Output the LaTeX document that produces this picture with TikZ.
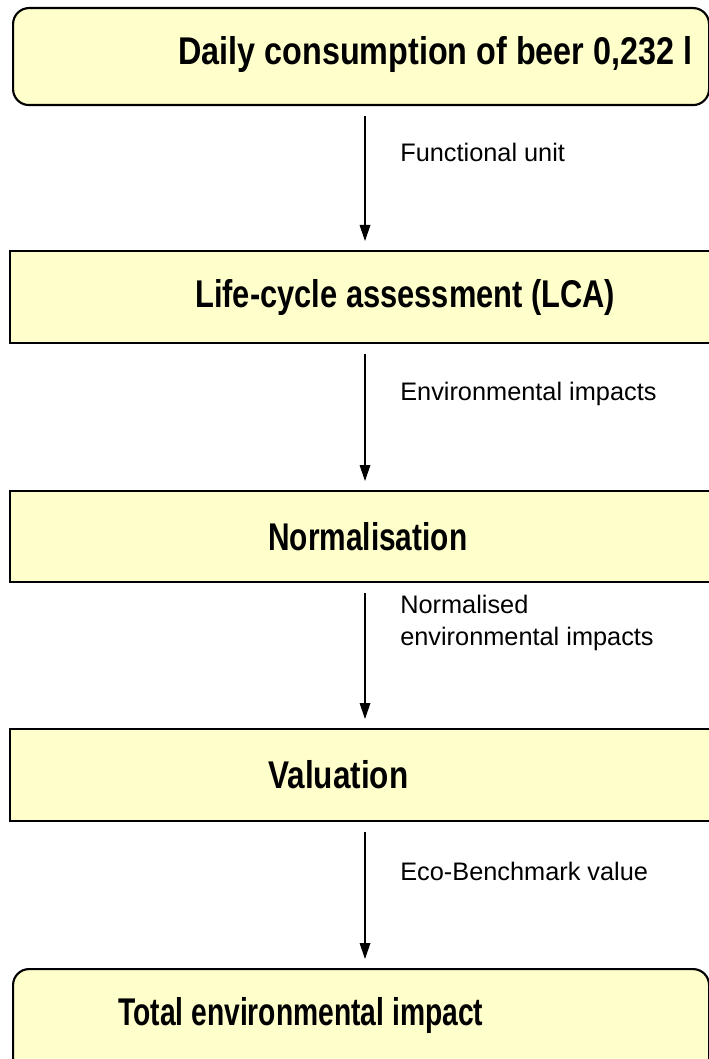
\documentclass[tikz,border=0pt]{standalone}
\usepackage{fontspec}
\usepackage{graphicx}
\setmainfont{Liberation Sans}
\newfontfamily\boxfont[FakeStretch=0.85]{Liberation Sans Bold}
\usetikzlibrary{arrows.meta}
\definecolor{boxfill}{HTML}{FFFFCC}
\newcommand{\fitw}[2]{\resizebox{\dimexpr #1pt*3/4\relax}{\height}{#2}}
\tikzset{
  stagebox/.style={draw=black, line width=1.6pt, fill=boxfill, anchor=north west, inner sep=0pt},
  roundbox/.style={stagebox, rounded corners=12pt},
  boxtext/.style={anchor=west, inner sep=0pt, font=\boxfont\fontsize{29pt}{34pt}\selectfont},
  flowarrow/.style={draw=black, line width=0.9pt, -{Triangle[length=12pt,width=8pt]}},
  flowlabel/.style={anchor=north west, inner sep=0pt, align=left, font=\fontsize{19pt}{24pt}\selectfont},
}
\begin{document}
\begin{tikzpicture}[x=0.75pt,y=-0.75pt]
\useasboundingbox (0,0) rectangle (709,1059);
\begin{scope}
\clip (0,0) rectangle (709,1059);
% boxes
\node[roundbox, minimum width=696*0.75pt, minimum height=97*0.75pt] (b1) at (12,7) {};
\node[stagebox, minimum width=720*0.75pt, minimum height=92*0.75pt] (b2) at (9,250) {};
\node[stagebox, minimum width=720*0.75pt, minimum height=91*0.75pt] (b3) at (9,490) {};
\node[stagebox, minimum width=720*0.75pt, minimum height=92*0.75pt] (b4) at (9,728) {};
\node[roundbox, minimum width=696*0.75pt, minimum height=110*0.75pt] (b5) at (12,968) {};
\end{scope}
% box texts
\node[boxtext] (t1) at (178,55) {\fitw{514}{Daily consumption of beer 0,232 l}};
\node[boxtext] (t2) at (195,298) {\fitw{420}{Life-cycle assessment (LCA)}};
\node[boxtext] (t3) at (268,537) {\fitw{199}{Normalisation}};
\node[boxtext] (t4) at (268,775) {\fitw{140}{Valuation}};
\node[boxtext] (t5) at (118,1015) {\fitw{365}{Total environmental impact}};
% arrow column
\coordinate (ax) at (365,0);
\draw[flowarrow, shorten <=10*0.75pt, shorten >=9*0.75pt] (b1.south -| ax) -- (b2.north -| ax);
\draw[flowarrow, shorten <=10*0.75pt, shorten >=9*0.75pt] (b2.south -| ax) -- (b3.north -| ax);
\draw[flowarrow, shorten <=10*0.75pt, shorten >=9*0.75pt] (b3.south -| ax) -- (b4.north -| ax);
\draw[flowarrow, shorten <=10*0.75pt, shorten >=9*0.75pt] (b4.south -| ax) -- (b5.north -| ax);
% labels
\node[flowlabel] (l1) at (400,143) {Functional unit};
\node[flowlabel] (l2) at (400,382) {Environmental impacts};
\node[flowlabel] (l3) at (400,595) {Normalised\\environmental impacts};
\node[flowlabel] (l4) at (400,862) {Eco-Benchmark value};
\end{tikzpicture}
\end{document}
